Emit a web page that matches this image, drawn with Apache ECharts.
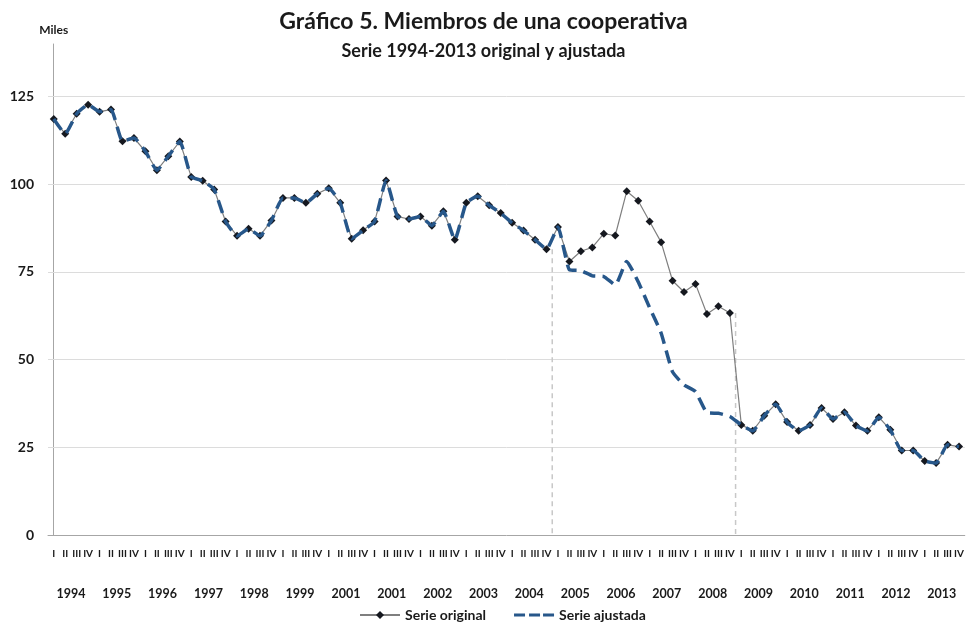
<!DOCTYPE html>
<html>
<head>
<meta charset="UTF-8">
<style>
  html, body { margin: 0; padding: 0; background: #fff; }
  #chart { width: 967px; height: 625px; }
</style>
</head>
<body>
<div id="chart"></div>
<script src="https://cdn.jsdelivr.net/npm/echarts@6/dist/echarts.min.js"></script>
<script>
// year labels as printed in the source (2001 appears twice)
var years = ['1994', '1995', '1996', '1997', '1998', '1999', '2001', '2001', '2002', '2003',
             '2004', '2005', '2006', '2007', '2008', '2009', '2010', '2011', '2012', '2013'];
var quarterNames = ['I', 'II', 'III', 'IV'];

var serieOriginal = [
  118.6, 114.4, 120.1, 122.7,   // 1994
  120.7, 121.3, 112.3, 113.2,   // 1995
  109.4, 104.0, 108.0, 112.2,   // 1996
  102.1, 101.0, 98.5, 89.4,     // 1997
  85.3, 87.3, 85.3, 89.7,       // 1998
  96.1, 96.1, 94.7, 97.3,       // 1999
  98.9, 94.7, 84.5, 86.9,       // 2000
  89.4, 101.1, 90.8, 90.1,      // 2001
  90.8, 88.2, 92.3, 84.2,       // 2002
  94.7, 96.6, 94.0, 91.8,       // 2003
  89.0, 86.8, 84.2, 81.5,       // 2004
  87.8, 78.0, 80.9, 82.0,       // 2005
  85.9, 85.4, 98.0, 95.3,       // 2006
  89.4, 83.5, 72.5, 69.3,       // 2007
  71.6, 63.0, 65.2, 63.3,       // 2008
  31.4, 29.7, 34.0, 37.3,       // 2009
  32.2, 29.7, 31.4, 36.2,       // 2010
  33.1, 35.0, 31.2, 29.7,       // 2011
  33.6, 30.0, 24.1, 24.1,       // 2012
  21.1, 20.5, 25.7, 25.2        // 2013
];

var serieAjustada = [
  118.6, 114.4, 120.1, 122.7,   // 1994
  120.7, 121.3, 112.3, 113.2,   // 1995
  109.4, 104.0, 108.0, 112.2,   // 1996
  102.1, 101.0, 98.5, 89.4,     // 1997
  85.3, 87.3, 85.3, 89.7,       // 1998
  96.1, 96.1, 94.7, 97.3,       // 1999
  98.9, 94.7, 84.5, 86.9,       // 2000
  89.4, 101.1, 90.8, 90.1,      // 2001
  90.8, 88.2, 92.3, 84.2,       // 2002
  94.7, 96.6, 94.0, 91.8,       // 2003
  89.0, 86.8, 84.2, 81.5,       // 2004
  87.8, 75.6, 75.4, 73.9,       // 2005
  73.7, 71.3, 78.0, 72.2,       // 2006
  64.8, 57.6, 46.5, 42.8,       // 2007
  40.9, 34.9, 34.7, 33.8,       // 2008
  31.4, 29.7, 34.0, 37.3,       // 2009
  32.2, 29.7, 31.4, 36.2,       // 2010
  33.1, 35.0, 31.2, 29.7,       // 2011
  33.6, 30.0, 24.1, 24.1,       // 2012
  21.1, 20.5, 25.7, 25.2        // 2013
];

var yTicks = [25, 50, 75, 100, 125];
// dashed reference drops between 2004/2005 and 2008/2009 (index of the last quarter before)
var dropAfter = [43, 59];

var quarters = [];
years.forEach(function () {
  quarterNames.forEach(function (q) { quarters.push(q); });
});

var font = 'Lato, "Open Sans", sans-serif';
var textColor = '#1a1a1a';
var axisGray = '#a6a6a6';
var blue = '#27578a';

var chart = echarts.init(document.getElementById('chart'));

var dropSeries = dropAfter.map(function (i) {
  return {
    type: 'line',
    xAxisIndex: 2,
    symbol: 'none',
    silent: true,
    z: 1,
    lineStyle: { color: '#c8c8c8', width: 1.5, type: [5, 4] },
    data: [[i + 0.5, serieOriginal[i]], [i + 0.5, 0]]
  };
});

chart.setOption({
  animation: false,
  textStyle: { fontFamily: font },
  title: [{
    text: 'Gráfico 5. Miembros de una cooperativa',
    left: 'center',
    top: 5,
    textStyle: { fontFamily: font, fontSize: 23, fontWeight: 'bold', color: textColor }
  }, {
    text: 'Serie 1994-2013 original y ajustada',
    left: 'center',
    top: 37,
    textStyle: { fontFamily: font, fontSize: 18, fontWeight: 'bold', color: textColor }
  }],
  legend: {
    data: [
      { name: 'Serie original' },
      { name: 'Serie ajustada', icon: 'path://M0,4h11v3h-11z M15,4h11v3h-11z M29,4h11v3h-11z' }
    ],
    bottom: -2,
    left: 354,
    itemWidth: 40,
    itemHeight: 10,
    itemGap: 28,
    textStyle: { fontFamily: font, fontSize: 14, fontWeight: 'bold', color: textColor }
  },
  grid: { left: 48, right: 1, top: 44, bottom: 90 },
  xAxis: [{
    type: 'category',
    data: quarters,
    boundaryGap: true,
    axisLine: { lineStyle: { color: axisGray, width: 1 } },
    axisTick: { interval: 0, length: 37, lineStyle: { color: axisGray } },
    axisLabel: {
      interval: 0, margin: 14, hideOverlap: false,
      fontFamily: font, fontSize: 10, fontWeight: 'bold', color: textColor
    },
    splitLine: { show: false }
  }, {
    type: 'category',
    data: years,
    position: 'bottom',
    offset: 37,
    boundaryGap: true,
    axisLine: { show: false },
    axisTick: { interval: 0, length: 38, lineStyle: { color: axisGray } },
    axisLabel: {
      interval: 0, margin: 15,
      fontFamily: font, fontSize: 12.5, fontWeight: 'bold', color: textColor
    }
  }, {
    type: 'value',
    min: -0.5,
    max: 79.5,
    show: false
  }],
  yAxis: {
    type: 'value',
    min: 0,
    max: 140,
    interval: 25,
    name: 'Miles',
    nameLocation: 'end',
    nameGap: 8,
    nameTextStyle: { fontFamily: font, fontSize: 12, fontWeight: 'bold', color: textColor, align: 'center' },
    axisLine: { show: true, lineStyle: { color: axisGray, width: 1 } },
    axisTick: { show: false },
    splitLine: { show: false },
    axisLabel: {
      margin: 14,
      fontFamily: font, fontSize: 14, fontWeight: 'bold', color: textColor,
      formatter: function (v) { return v % 25 === 0 ? String(v) : ''; }
    }
  },
  series: [{
    name: 'Serie original',
    type: 'line',
    data: serieOriginal,
    symbol: 'diamond',
    symbolSize: 8,
    itemStyle: { color: '#15181f' },
    lineStyle: { color: '#7f7f7f', width: 1.2 },
    z: 3,
    markLine: {
      silent: true,
      symbol: 'none',
      z: 1,
      label: { show: false },
      lineStyle: { color: '#dcdcdc', width: 1, type: 'solid' },
      data: yTicks.map(function (t) { return { yAxis: t }; })
    }
  }, {
    name: 'Serie ajustada',
    type: 'line',
    data: serieAjustada,
    symbol: 'none',
    smooth: 0.15,
    itemStyle: { color: blue },
    lineStyle: { color: blue, width: 3.5, type: [13, 7] },
    z: 4
  }].concat(dropSeries)
});
</script>
</body>
</html>
